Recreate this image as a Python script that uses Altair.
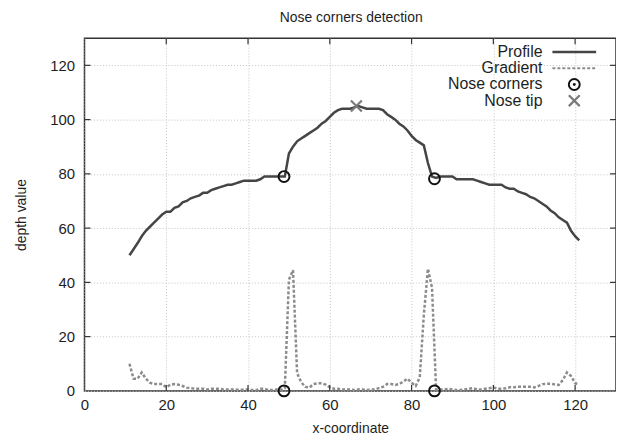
import altair as alt
import pandas as pd

# ---------------- data ----------------
x_vals = list(range(11, 122))
profile = [
    50, 52.2, 54.5, 57, 59, 60.5, 62, 63.5, 65, 66,
    66, 67.5, 68, 69.5, 70, 71, 71.5, 72, 73, 73,
    74, 74.5, 75, 75.5, 76, 76, 76.5, 77, 77.5, 77.5,
    77.5, 77.5, 78, 79, 79, 79, 79, 79, 79, 87.5,
    90, 92, 93, 94, 95, 96, 97, 98.5, 99.5, 101,
    102.5, 103.5, 104, 104, 104, 104.5, 105, 104.5, 104, 104,
    104, 104, 103.5, 102, 101, 100, 98.5, 97.5, 96, 94,
    92.5, 91.5, 90.5, 84, 79, 78.5, 79, 79, 79, 79,
    78, 78, 78, 78, 78, 77.5, 77, 76.5, 76, 76,
    76, 76, 75, 74.5, 74.5, 73.5, 73, 72.5, 71.5, 71,
    70, 69, 68, 66.5, 65.5, 64, 63, 62, 59, 57,
    55.5,
]
gradient = [
    10, 4.5, 4.5, 6.8, 4.5, 3, 2.5, 2.5, 2.5, 1.3,
    2.3, 2.5, 2.3, 1.8, 1.2, 1, 0.8, 0.8, 0.8, 0.5,
    0.8, 0.8, 0.8, 0.5, 0.5, 0.5, 0.5, 0.3, 0.5, 0.5,
    0.3, 0.3, 0.8, 0.8, 0.3, 0.3, 0.5, 0.3, 1, 41,
    44.5, 6.5, 3.2, 1.5, 1.2, 2.5, 2.8, 2.8, 2.3, 1.3,
    0.8, 0.8, 0.5, 0.5, 0.5, 0.3, 0.5, 0.5, 0.3, 0.5,
    0.5, 1, 1.5, 2.5, 2.5, 2.2, 2.5, 3.5, 4.5, 3,
    1.8, 5, 28, 45, 38, 0.5, 0.5, 0.5, 0.8, 0.5,
    0.3, 0.3, 0.5, 0.8, 1, 0.5, 0.5, 0.8, 1, 1.3,
    0.8, 0.8, 1, 1.3, 1.3, 1.5, 1.5, 1.5, 1.5, 1.3,
    1.8, 2.5, 2.6, 2.6, 2.4, 2.2, 4, 6.8, 5.5, 2.8,
    2.5,
]
corner_x = [48.8, 85.6]
corner_profile_y = [79.0, 78.2]
corner_gradient_y = [0.0, 0.0]
tip_x = [66.5]
tip_y = [105.0]
axis_ticks = [0, 20, 40, 60, 80, 100, 120]
legend_labels = ["Profile", "Gradient", "Nose corners", "Nose tip"]
chart_title = "Nose corners detection"
x_title = "x-coordinate"
y_title = "depth value"

# ---------------- styling ----------------
FONT = "Liberation Sans"
W, H = 535, 355
PROFILE_COLOR = "#454545"
GRADIENT_COLOR = "#8c8c8c"
CORNER_COLOR = "#111111"
TIP_COLOR = "#7a7a7a"
FRAME_COLOR = "#333333"
TEXT_COLOR = "#1e1e1e"
X_SHAPE = "M-1,-1L1,1M1,-1L-1,1"

xs = alt.Scale(domain=[0, 130], nice=False, zero=False)
ys = alt.Scale(domain=[0, 130], nice=False, zero=False)
x_axis = alt.Axis(values=axis_ticks, title=x_title, labelPadding=7, titlePadding=9,
                  labelFlush=False)
y_axis = alt.Axis(values=axis_ticks, title=y_title, labelPadding=10, titlePadding=21,
                  labelFlush=False)


def xq(field):
    return alt.X(field, type="quantitative", scale=xs, axis=x_axis)


def yq(field):
    return alt.Y(field, type="quantitative", scale=ys, axis=y_axis)


df = pd.DataFrame({"x": x_vals, "profile": profile, "gradient": gradient})
corners = pd.DataFrame({"x": corner_x + corner_x,
                        "y": corner_profile_y + corner_gradient_y})
tip = pd.DataFrame({"x": tip_x, "y": tip_y})
ticks_df = pd.DataFrame({"t": axis_ticks[1:]})
one = pd.DataFrame({"a": [0]})

profile_line = alt.Chart(df).mark_line(color=PROFILE_COLOR, strokeWidth=2.5).encode(
    x=xq("x"), y=yq("profile"))
gradient_line = alt.Chart(df).mark_line(
    color=GRADIENT_COLOR, strokeWidth=2.5, strokeDash=[3, 2]).encode(
    x=xq("x"), y=yq("gradient"))
corner_pts = alt.Chart(corners).mark_point(
    shape="circle", filled=False, size=120, color=CORNER_COLOR, strokeWidth=2,
    opacity=1).encode(x=xq("x"), y=yq("y"))
tip_pt = alt.Chart(tip).mark_point(
    shape=X_SHAPE, filled=False, size=120, color=TIP_COLOR, strokeWidth=2.2,
    opacity=1).encode(x=xq("x"), y=yq("y"))

# inward ticks on all four sides
tick_style = dict(color=FRAME_COLOR, strokeWidth=1.2)
tick_bottom = alt.Chart(ticks_df).mark_rule(**tick_style).encode(
    x=xq("t"), y=alt.value(H), y2=alt.value(H - 6))
tick_top = alt.Chart(ticks_df).mark_rule(**tick_style).encode(
    x=xq("t"), y=alt.value(0), y2=alt.value(6))
tick_left = alt.Chart(ticks_df).mark_rule(**tick_style).encode(
    y=yq("t"), x=alt.value(0), x2=alt.value(6))
tick_right = alt.Chart(ticks_df).mark_rule(**tick_style).encode(
    y=yq("t"), x=alt.value(W), x2=alt.value(W - 6))

# title as a text mark above the plot area
title_layer = alt.Chart(pd.DataFrame({"label": [chart_title]})).mark_text(
    align="center", baseline="alphabetic", font=FONT, fontSize=14, color=TEXT_COLOR
).encode(x=alt.value(W / 2 + 1), y=alt.value(-16.5), text="label:N")

# custom legend (labels right-aligned, symbols on the right)
LEG_TEXT_X = 461
LEG_SYM_X0, LEG_SYM_X1 = 471, 515
LEG_SYM_XC = 493
LEG_Y0, LEG_DY = 14, 16.3
legend_layers = []
for i, lab in enumerate(legend_labels):
    legend_layers.append(
        alt.Chart(pd.DataFrame({"label": [lab]})).mark_text(
            align="right", baseline="middle", font=FONT, fontSize=16, color=TEXT_COLOR
        ).encode(x=alt.value(LEG_TEXT_X), y=alt.value(LEG_Y0 + i * LEG_DY), text="label:N")
    )
legend_layers.append(alt.Chart(one).mark_rule(color=PROFILE_COLOR, strokeWidth=2.5).encode(
    x=alt.value(LEG_SYM_X0), x2=alt.value(LEG_SYM_X1), y=alt.value(LEG_Y0)))
legend_layers.append(alt.Chart(one).mark_rule(
    color=GRADIENT_COLOR, strokeWidth=2, strokeDash=[3, 2]).encode(
    x=alt.value(LEG_SYM_X0), x2=alt.value(LEG_SYM_X1), y=alt.value(LEG_Y0 + LEG_DY)))
legend_layers.append(alt.Chart(one).mark_point(
    shape="circle", filled=False, size=120, color=CORNER_COLOR, strokeWidth=2, opacity=1).encode(
    x=alt.value(LEG_SYM_XC), y=alt.value(LEG_Y0 + 2 * LEG_DY)))
legend_layers.append(alt.Chart(one).mark_point(
    shape="circle", filled=True, size=8, color=CORNER_COLOR, opacity=1).encode(
    x=alt.value(LEG_SYM_XC), y=alt.value(LEG_Y0 + 2 * LEG_DY)))
legend_layers.append(alt.Chart(one).mark_point(
    shape=X_SHAPE, filled=False, size=120, color=TIP_COLOR, strokeWidth=2.2, opacity=1).encode(
    x=alt.value(LEG_SYM_XC), y=alt.value(LEG_Y0 + 3 * LEG_DY)))

chart = alt.layer(
    profile_line, gradient_line, corner_pts, tip_pt,
    tick_bottom, tick_top, tick_left, tick_right,
    title_layer,
    *legend_layers,
).properties(
    width=W, height=H,
    autosize=alt.AutoSizeParams(type="none"),
    padding={"left": 77, "top": 29, "right": 0, "bottom": 43},
).configure_view(
    stroke=FRAME_COLOR, strokeWidth=1.5
).configure_axis(
    grid=True, gridColor="#c4c4c4", gridDash=[1, 2], gridWidth=1,
    domain=False, ticks=False, tickSize=0,
    labelFont=FONT, labelFontSize=15, labelColor=TEXT_COLOR,
    titleFont=FONT, titleFontSize=14, titleFontWeight="normal", titleColor=TEXT_COLOR,
)

chart.save("out.html", embed_options={"renderer": "svg", "actions": False})
